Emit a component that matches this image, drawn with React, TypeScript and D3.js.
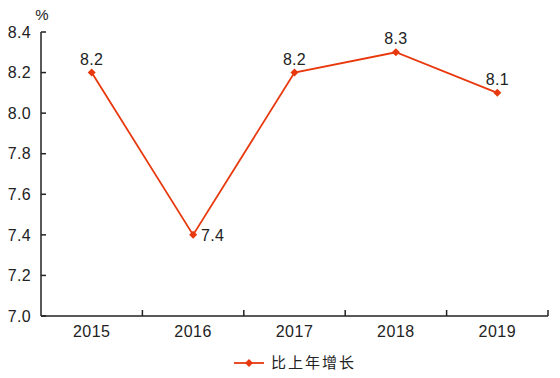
import React from "react";
import * as d3 from "d3";

const years = ["2015", "2016", "2017", "2018", "2019"];
const growth = [8.2, 7.4, 8.2, 8.3, 8.1];
const yTicks = [7.0, 7.2, 7.4, 7.6, 7.8, 8.0, 8.2, 8.4];
const seriesName = "比上年增长";
const unitLabel = "%";

const W = 560;
const H = 378;
const left = 41;
const right = 548;
const top = 32;
const bottom = 316;
const color = "#E8380D";
const font = "'Liberation Sans', Arial, Helvetica, sans-serif";

export default function App() {
  const x = d3.scaleBand<string>().domain(years).range([left, right]);
  const y = d3.scaleLinear().domain([7.0, 8.4]).range([bottom, top]);
  const cx = (d: string) => (x(d) as number) + x.bandwidth() / 2;
  const line = d3
    .line<number>()
    .x((_, i) => cx(years[i]))
    .y((v) => y(v));
  const diamond = (px: number, py: number, r: number) =>
    `M${px},${py - r}L${px + r},${py}L${px},${py + r}L${px - r},${py}Z`;
  const bounds = [...years.map((d) => x(d) as number), right];

  return (
    <svg
      width={W}
      height={H}
      style={{ position: "absolute", left: 0, top: 0, background: "#fff" }}
      fontFamily={font}
    >
      <text x={left + 1} y={20} fontSize={15} fill="#222" textAnchor="middle">
        {unitLabel}
      </text>
      <line x1={left} x2={left} y1={top} y2={bottom} stroke="#222" strokeWidth={1.5} />
      <line x1={left} x2={right} y1={bottom} y2={bottom} stroke="#222" strokeWidth={1.5} />
      {yTicks.map((t) => (
        <g key={t}>
          <line x1={left} x2={left + 5} y1={y(t)} y2={y(t)} stroke="#222" strokeWidth={1.5} />
          <text
            x={31}
            y={y(t)}
            dy="0.36em"
            fontSize={16}
            textAnchor="end"
            fill="#222"
            letterSpacing={0.3}
          >
            {t.toFixed(1)}
          </text>
        </g>
      ))}
      {bounds.slice(1).map((b, i) => (
        <line key={i} x1={b} x2={b} y1={bottom} y2={bottom - 6} stroke="#222" strokeWidth={1.5} />
      ))}
      {years.map((d) => (
        <text key={d} x={cx(d)} y={bottom + 21} fontSize={16} textAnchor="middle" fill="#222" letterSpacing={0.5}>
          {d}
        </text>
      ))}
      <path d={line(growth) || ""} fill="none" stroke={color} strokeWidth={1.8} />
      {growth.map((v, i) => (
        <path key={i} d={diamond(cx(years[i]), y(v), 4)} fill={color} />
      ))}
      {growth.map((v, i) => {
        const isMin = v === d3.min(growth);
        return (
          <text
            key={"l" + i}
            x={isMin ? cx(years[i]) + 8 : cx(years[i])}
            y={isMin ? y(v) : y(v) - 8}
            dy={isMin ? "0.36em" : 0}
            fontSize={16}
            textAnchor={isMin ? "start" : "middle"}
            fill="#222"
            letterSpacing={0.3}
          >
            {v.toFixed(1)}
          </text>
        );
      })}
      <g>
        <line x1={234} x2={264} y1={363} y2={363} stroke={color} strokeWidth={1.8} />
        <path d={diamond(249, 363, 4)} fill={color} />
        <text x={271} y={363} dy="0.36em" fontSize={15} fill="#222" letterSpacing={2}
          fontFamily="'Noto Sans CJK SC', sans-serif">
          {seriesName}
        </text>
      </g>
    </svg>
  );
}
